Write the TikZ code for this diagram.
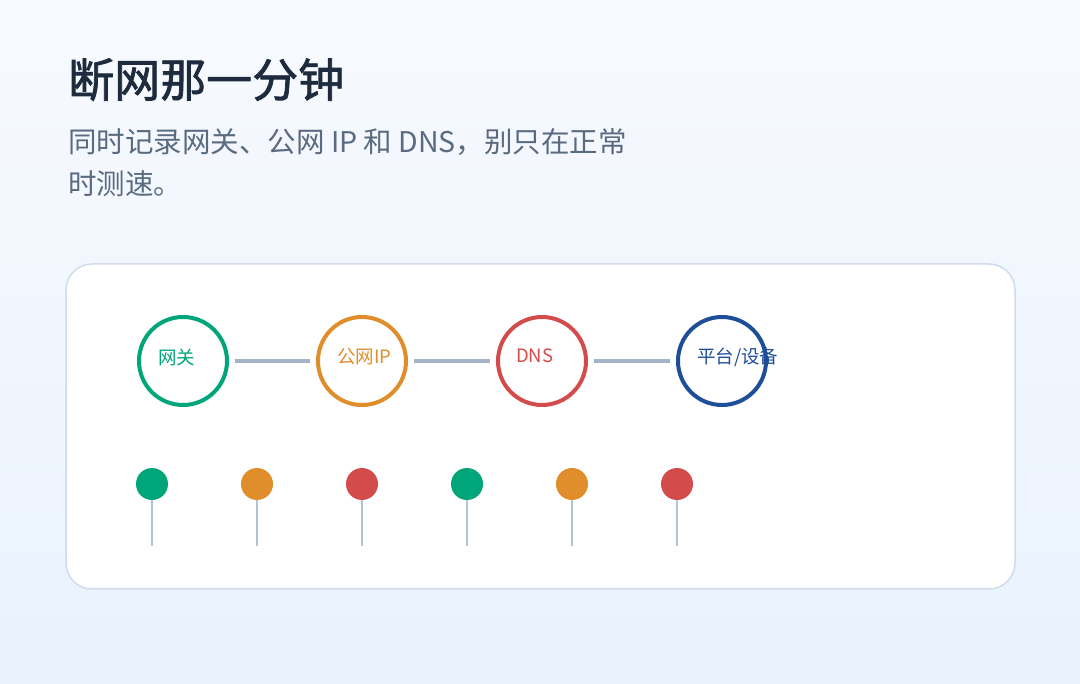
\documentclass[tikz,border=0pt]{standalone}
\usepackage{fontspec}
\setmainfont{Noto Sans CJK SC}
\newfontfamily\cjk{Noto Sans CJK SC}
\newfontfamily\cjkt[FakeBold=1.6]{Noto Sans CJK SC}
\definecolor{cgreen}{HTML}{00A67A}
\definecolor{corange}{HTML}{E08E2B}
\definecolor{cred}{HTML}{D44B4B}
\definecolor{cblue}{HTML}{1F4E99}
\definecolor{ctitle}{HTML}{1E2A3E}
\definecolor{csub}{HTML}{5A6A80}
\definecolor{cline}{HTML}{A3B3C7}
\definecolor{cstem}{HTML}{B3C3D6}
\definecolor{cborder}{HTML}{CEDCEE}
\definecolor{bgA}{HTML}{F7FAFE}
\definecolor{bgB}{HTML}{E9F2FD}
\begin{document}
\begin{tikzpicture}[x=1pt,y=-1pt,
  ring/.style={circle,draw=#1,line width=4pt,minimum size=88pt,inner sep=0pt},
  lab/.style={text=#1,font=\cjk\fontsize{18.5}{20}\selectfont,anchor=west,inner sep=0pt},
  link/.style={draw=cline,line width=3.5pt},
  dot/.style={circle,fill=#1,minimum size=32pt,inner sep=0pt},
  stem/.style={draw=cstem,line width=2pt}]
\useasboundingbox (0,0) rectangle (1080,684);
\shade[top color=bgA,bottom color=bgB] (0,0) rectangle (1080,684);
\node[anchor=base west,inner sep=0pt,text=ctitle,font=\cjkt\fontsize{46}{50}\selectfont] (title) at (68,97) {断网那一分钟};
\node[anchor=base west,inner sep=0pt,text=csub,font=\cjk\fontsize{28.5}{42}\selectfont] (sub) at (68,153) {同时记录网关、公网 IP 和 DNS，别只在正常};
\node[anchor=base west,inner sep=0pt,text=csub,font=\cjk\fontsize{28.5}{42}\selectfont] (sub2) at (68,195) {时测速。};
\draw[fill=white,draw=cborder,line width=1.5pt,rounded corners=26pt] (66,264) rectangle (1015,589);
\node[ring=cgreen] (r1) at (183,361) {};
\node[ring=corange] (r2) at (362,361) {};
\node[ring=cred] (r3) at (542,361) {};
\node[ring=cblue] (r4) at (722,361) {};
\node[lab=cgreen] (l1) at (158,357) {网关};
\node[lab=corange] (l2) at (337,357) {公网IP};
\node[lab=cred] (l3) at (516,356) {DNS};
\node[lab=cblue] (l4) at (697,357) {平台/设备};
\draw[link] ([xshift=6pt]r1.east) -- ([xshift=-6pt]r2.west);
\draw[link] ([xshift=6pt]r2.east) -- ([xshift=-6pt]r3.west);
\draw[link] ([xshift=6pt]r3.east) -- ([xshift=-6pt]r4.west);
\foreach \x/\c [count=\i] in {152/cgreen,257/corange,362/cred,467/cgreen,572/corange,677/cred}{
  \coordinate (e\i) at (\x,546);
  \draw[stem] (\x,490) -- (e\i);
  \node[dot=\c] (d\i) at (\x,484) {};
}
\end{tikzpicture}
\end{document}
